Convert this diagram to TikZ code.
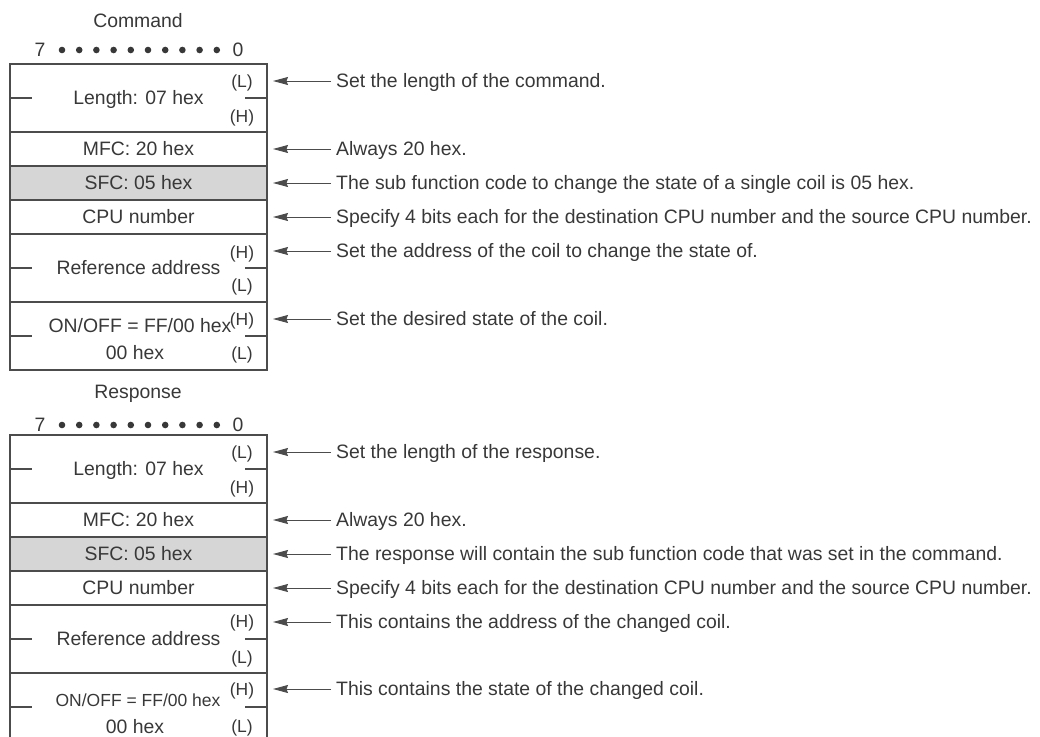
\documentclass[tikz,border=0pt]{standalone}
\usepackage{fontspec}
\setmainfont{Liberation Sans}
\usetikzlibrary{arrows.meta,positioning,calc}

\definecolor{txtgray}{gray}{0.22}
\definecolor{linegray}{gray}{0.3}
\definecolor{cellgray}{gray}{0.84}

\begin{document}
\begin{tikzpicture}[x=1pt,y=-1pt,
every node/.style={text=txtgray,font=\fontsize{19.4}{23}\selectfont,text height=18.8pt,text depth=4.9pt},
cell/.style={draw=linegray,line width=1.3pt,minimum width=257pt,minimum height=34pt,inner sep=0pt,outer sep=0pt},
dcell/.style={cell,minimum height=68pt},
hl/.style={font=\fontsize{17.5}{20}\selectfont,inner sep=0pt,text height=16.9pt,text depth=4.4pt},
small/.style={font=\fontsize{17.5}{20}\selectfont,text height=16.9pt,text depth=4.4pt},
desc/.style={anchor=west,inner sep=5pt},
tick/.style={draw=linegray,line width=1.3pt},
pointer/.style={draw=linegray,line width=0.9pt,-{Stealth[length=15pt,width=8pt,inset=1.5pt]}}]
\useasboundingbox (0,0) rectangle (1040,736);

% command
\node (Ctitle) at (138,21) {Command};
\node (Cmsb) at (40,50) {7};
\node (Clsb) at (238,50) {0};
\fill[txtgray] (62,50) circle (3.3) (79.2,50) circle (3.3) (96.4,50) circle (3.3) (113.6,50) circle (3.3) (130.8,50) circle (3.3)
 (148,50) circle (3.3) (165.2,50) circle (3.3) (182.4,50) circle (3.3) (199.6,50) circle (3.3) (216.8,50) circle (3.3);

\node[dcell] (C1) at (138.5,98) {Length: 07 hex};
\node[cell] (C2) at (138.5,149) {MFC: 20 hex};
\node[cell,fill=cellgray] (C3) at (138.5,183) {SFC: 05 hex};
\node[cell] (C4) at (138.5,217) {CPU number};
\node[dcell] (C5) at (138.5,268) {Reference address};
\node[dcell] (C6) at (138.5,336) {};
\node (C6a) at (140,326) {ON/OFF = FF/00 hex};
\node (C6b) at (135,353) {00 hex};

\node[hl] (C1u) at (242,81) {(L)};
\node[hl] (C1d) at (242,116) {(H)};
\node[hl] (C5u) at (242,252) {(H)};
\node[hl] (C5d) at (242,285) {(L)};
\node[hl] (C6u) at (242,319) {(H)};
\node[hl] (C6d) at (242,353) {(L)};

\draw[tick] (C1.west) -- ++(22,0);
\draw[tick] (C1.east) -- ++(-22,0);
\draw[tick] (C5.west) -- ++(22,0);
\draw[tick] (C5.east) -- ++(-22,0);
\draw[tick] (C6.west) -- ++(22,0);
\draw[tick] (C6.east) -- ++(-22,0);

\coordinate (CT1) at (273,81);
\coordinate (CT2) at (273,149);
\coordinate (CT3) at (273,183);
\coordinate (CT4) at (273,217);
\coordinate (CT5) at (273,251);
\coordinate (CT6) at (273,319);
\node[desc] (CD1) at (331,81) {Set the length of the command.};
\node[desc] (CD2) at (331,149) {Always 20 hex.};
\node[desc] (CD3) at (331,183) {The sub function code to change the state of a single coil is 05 hex.};
\node[desc] (CD4) at (331,217) {Specify 4 bits each for the destination CPU number and the source CPU number.};
\node[desc] (CD5) at (331,251) {Set the address of the coil to change the state of.};
\node[desc] (CD6) at (331,319) {Set the desired state of the coil.};
\draw[pointer] (CD1) -- (CT1);
\draw[pointer] (CD2) -- (CT2);
\draw[pointer] (CD3) -- (CT3);
\draw[pointer] (CD4) -- (CT4);
\draw[pointer] (CD5) -- (CT5);
\draw[pointer] (CD6) -- (CT6);

% response
\node (Rtitle) at (138,392) {Response};
\node (Rmsb) at (40,425) {7};
\node (Rlsb) at (238,425) {0};
\fill[txtgray] (62,425) circle (3.3) (79.2,425) circle (3.3) (96.4,425) circle (3.3) (113.6,425) circle (3.3) (130.8,425) circle (3.3)
 (148,425) circle (3.3) (165.2,425) circle (3.3) (182.4,425) circle (3.3) (199.6,425) circle (3.3) (216.8,425) circle (3.3);

\node[dcell] (R1) at (138.5,469) {Length: 07 hex};
\node[cell] (R2) at (138.5,520) {MFC: 20 hex};
\node[cell,fill=cellgray] (R3) at (138.5,554) {SFC: 05 hex};
\node[cell] (R4) at (138.5,588) {CPU number};
\node[dcell] (R5) at (138.5,639) {Reference address};
\node[dcell] (R6) at (138.5,707) {};
\node[small] (R6a) at (138,700) {ON/OFF = FF/00 hex};
\node (R6b) at (135,727) {00 hex};

\node[hl] (R1u) at (242,452) {(L)};
\node[hl] (R1d) at (242,487) {(H)};
\node[hl] (R5u) at (242,621) {(H)};
\node[hl] (R5d) at (242,657) {(L)};
\node[hl] (R6u) at (242,689) {(H)};
\node[hl] (R6d) at (242,726) {(L)};

\draw[tick] (R1.west) -- ++(22,0);
\draw[tick] (R1.east) -- ++(-22,0);
\draw[tick] (R5.west) -- ++(22,0);
\draw[tick] (R5.east) -- ++(-22,0);
\draw[tick] (R6.west) -- ++(22,0);
\draw[tick] (R6.east) -- ++(-22,0);

\coordinate (RT1) at (273,452);
\coordinate (RT2) at (273,520);
\coordinate (RT3) at (273,554);
\coordinate (RT4) at (273,588);
\coordinate (RT5) at (273,622);
\coordinate (RT6) at (273,689);
\node[desc] (RD1) at (331,452) {Set the length of the response.};
\node[desc] (RD2) at (331,520) {Always 20 hex.};
\node[desc] (RD3) at (331,554) {The response will contain the sub function code that was set in the command.};
\node[desc] (RD4) at (331,588) {Specify 4 bits each for the destination CPU number and the source CPU number.};
\node[desc] (RD5) at (331,622) {This contains the address of the changed coil.};
\node[desc] (RD6) at (331,689) {This contains the state of the changed coil.};
\draw[pointer] (RD1) -- (RT1);
\draw[pointer] (RD2) -- (RT2);
\draw[pointer] (RD3) -- (RT3);
\draw[pointer] (RD4) -- (RT4);
\draw[pointer] (RD5) -- (RT5);
\draw[pointer] (RD6) -- (RT6);

\end{tikzpicture}
\end{document}
